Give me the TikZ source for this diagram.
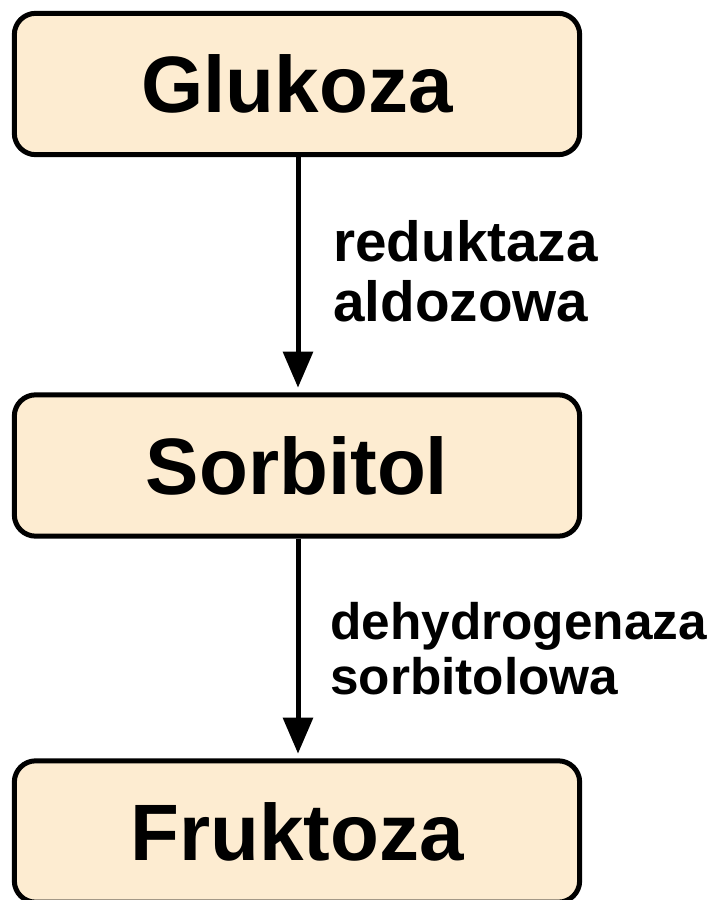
\documentclass[tikz,border=0pt]{standalone}
\usepackage{fontspec}
\setmainfont{Liberation Sans}
\usetikzlibrary{arrows.meta}
\definecolor{boxfill}{RGB}{253,236,209}
\tikzset{
  stagebox/.style={draw=black, fill=boxfill, line width=3.75pt, rounded corners=16pt,
    minimum width=424pt, minimum height=106pt, inner sep=0pt,
    font={\fontsize{60}{66}\selectfont\bfseries}},
  enzyme/.style={anchor=base west, align=left, inner sep=0pt},
  flow/.style={line width=3.75pt, -{Triangle[length=27pt, width=22pt]}, shorten >=3.5pt}
}
\begin{document}
\begin{tikzpicture}[x=0.75pt, y=-0.75pt]
  \clip (0,0) rectangle (708,900);
  \fill[white] (0,0) rectangle (708,900);
  % metabolic stages
  \node[stagebox] (glu) at (297,84) {Glukoza};
  \node[stagebox] (sor) at (297,465.5) {Sorbitol};
  \node[stagebox] (fru) at (297,831.5) {Fruktoza};
  % reactions
  \draw[flow] (glu.south -| 298,0) -- (sor.north -| 298,0);
  \draw[flow] (sor.south -| 298,0) -- (fru.north -| 298,0);
  % enzyme names (anchored at the baseline of the second line)
  \node[enzyme, font={\fontsize{42.5}{45}\selectfont\bfseries}] (enz1) at (333,321) {reduktaza\\aldozowa};
  \node[enzyme, font={\fontsize{38.5}{41}\selectfont\bfseries}] (enz2) at (330,694) {dehydrogenaza\\sorbitolowa};
\end{tikzpicture}
\end{document}
